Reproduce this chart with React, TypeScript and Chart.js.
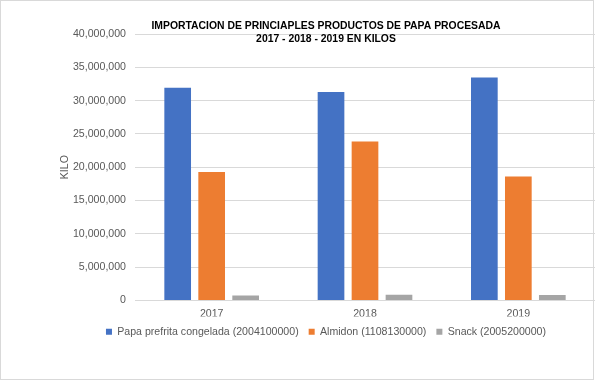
import React, { useEffect, useRef } from "react";
import { Chart, registerables } from "chart.js";

Chart.register(...registerables);

const categories = ["2017", "2018", "2019"];
const seriesNames = [
  "Papa prefrita congelada (2004100000)",
  "Almidon (1108130000)",
  "Snack (2005200000)",
];
const papaPrefrita = [31920000, 31280000, 33480000];
const almidon = [19290000, 23860000, 18600000];
const snack = [720000, 850000, 800000];
const seriesColors = ["#4472C4", "#ED7D31", "#A5A5A5"];
const titleLines = [
  "IMPORTACION DE PRINCIAPLES PRODUCTOS DE PAPA PROCESADA",
  "2017 - 2018 - 2019 EN KILOS",
];
const yAxisTitle = "KILO";
const yMin = 0;
const yMax = 40000000;
const yStep = 5000000;

const FONT = "'Liberation Sans', Arial, sans-serif";

export default function App() {
  const ref = useRef<HTMLCanvasElement | null>(null);

  useEffect(() => {
    if (!ref.current) return;
    const values = [papaPrefrita, almidon, snack];
    const chart = new Chart(ref.current, {
      type: "bar",
      data: {
        labels: categories,
        datasets: seriesNames.map((name, i) => ({
          label: name,
          data: values[i],
          backgroundColor: seriesColors[i],
          borderWidth: 0,
          categoryPercentage: 0.665,
          barPercentage: 0.785,
          yAxisID: "y",
        })),
      },
      options: {
        responsive: false,
        animation: false,
        devicePixelRatio: 1,
        layout: { padding: { top: 0, left: 0, right: 0, bottom: 34 } },
        plugins: {
          title: {
            display: true,
            text: titleLines,
            color: "#000000",
            font: { family: FONT, size: 10.4, weight: "bold", lineHeight: "13px" },
            padding: { top: 19.5, bottom: -11.5 },
          },
          legend: {
            position: "bottom",
            labels: {
              boxWidth: 6,
              boxHeight: 6,
              padding: 10,
              color: "#595959",
              font: { family: FONT, size: 10.6 },
            },
          },
          tooltip: { enabled: false },
        },
        scales: {
          x: {
            grid: { display: false, drawTicks: false },
            border: { display: false },
            ticks: {
              color: "#595959",
              padding: 7,
              font: { family: FONT, size: 10.6 },
            },
            afterFit: (s: any) => {
              s.height = 16;
            },
          },
          y: {
            min: yMin,
            max: yMax,
            position: "left",
            grid: { color: "#d9d9d9", lineWidth: 1, drawTicks: false },
            border: { display: false },
            ticks: {
              stepSize: yStep,
              padding: 9,
              color: "#595959",
              font: { family: FONT, size: 10.6 },
              callback: (v: any) => Number(v).toLocaleString("en-US"),
            },
            title: {
              display: true,
              text: yAxisTitle,
              color: "#595959",
              font: { family: FONT, size: 10.6 },
              padding: { top: 59, bottom: 0 },
            },
            afterFit: (s: any) => {
              s.width = 135;
            },
          },
          y2: {
            type: "linear",
            position: "right",
            display: true,
            grid: { display: false, drawTicks: false },
            border: { display: false },
            ticks: { display: false },
            afterFit: (s: any) => {
              s.width = 57;
            },
          },
        },
      },
    } as any);
    return () => chart.destroy();
  }, []);

  return (
    <div
      style={{
        position: "fixed",
        left: 0,
        top: 0,
        width: 595,
        height: 381,
        overflow: "hidden",
        background: "#ffffff",
      }}
    >
      <canvas ref={ref} width={652} height={381} style={{ display: "block" }} />
      <div
        style={{
          position: "absolute",
          left: 0,
          top: 0,
          width: 594,
          height: 380,
          boxSizing: "border-box",
          border: "1px solid #d9d9d9",
          pointerEvents: "none",
        }}
      />
    </div>
  );
}
